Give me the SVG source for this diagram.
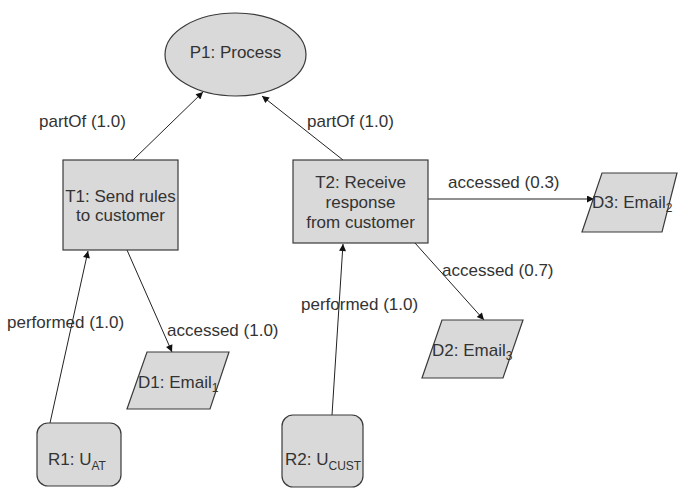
<svg xmlns="http://www.w3.org/2000/svg" width="678" height="488" viewBox="0 0 678 488">
<defs>
<style>
.shape{fill:#d9d9d9;stroke:#3a3a3a;stroke-width:1.2}
.lbl{font-family:"Liberation Sans",Arial,sans-serif;font-size:17px;fill:#333}
.sub{font-size:12px}
.conn{stroke:#222;stroke-width:1;fill:none;marker-end:url(#arr)}
</style>
<marker id="arr" viewBox="0 0 10 10" refX="10" refY="5" markerWidth="9" markerHeight="7" markerUnits="userSpaceOnUse" orient="auto">
<path d="M0,0 L10,5 L0,10 z" fill="#111"/>
</marker>
</defs>
<rect width="678" height="488" fill="#fff"/>
<g id="connectors">
<line class="conn" x1="133" y1="160" x2="203" y2="92"/>
<line class="conn" x1="343" y1="160" x2="262" y2="96"/>
<line class="conn" x1="50" y1="423" x2="88" y2="251"/>
<line class="conn" x1="127" y1="250" x2="172" y2="352"/>
<line class="conn" x1="332" y1="415" x2="343" y2="244"/>
<line class="conn" x1="415" y1="243" x2="484" y2="320"/>
<line class="conn" x1="428" y1="199" x2="594" y2="199"/>
<text class="lbl" x="39" y="127">partOf (1.0)</text>
<text class="lbl" x="307" y="127">partOf (1.0)</text>
<text class="lbl" x="448" y="188">accessed (0.3)</text>
<text class="lbl" x="442" y="276">accessed (0.7)</text>
<text class="lbl" x="301" y="310">performed (1.0)</text>
<text class="lbl" x="7" y="328">performed (1.0)</text>
<text class="lbl" x="167" y="336">accessed (1.0)</text>
</g>
<g id="P1">
<ellipse class="shape" cx="235.5" cy="54.5" rx="70.5" ry="41.5"/>
<text class="lbl" x="235.5" y="58" text-anchor="middle">P1: Process</text>
</g>
<g id="T1">
<rect class="shape" x="63" y="160" width="115" height="90"/>
<text class="lbl" x="120.5" y="202" text-anchor="middle">T1: Send rules</text>
<text class="lbl" x="120.5" y="221" text-anchor="middle">to customer</text>
</g>
<g id="T2">
<rect class="shape" x="293" y="160" width="135" height="83"/>
<text class="lbl" x="360.5" y="188" text-anchor="middle">T2: Receive</text>
<text class="lbl" x="360.5" y="208" text-anchor="middle">response</text>
<text class="lbl" x="360.5" y="228" text-anchor="middle">from customer</text>
</g>
<g id="D1">
<polygon class="shape" points="147,352 229,352 210,409 127,409"/>
<text class="lbl" x="138" y="388">D1: Email<tspan class="sub" dy="4">1</tspan></text>
</g>
<g id="D2">
<polygon class="shape" points="442,320 523,320 503,378 422,378"/>
<text class="lbl" x="432" y="356">D2: Email<tspan class="sub" dy="4">3</tspan></text>
</g>
<g id="D3">
<polygon class="shape" points="602,173 677,173 662,232 582,232"/>
<text class="lbl" x="592" y="208">D3: Email<tspan class="sub" dy="4">2</tspan></text>
</g>
<g id="R1">
<rect class="shape" x="37" y="423" width="84" height="63" rx="11" ry="11"/>
<text class="lbl" x="48" y="465">R1: U<tspan class="sub" dy="5">AT</tspan></text>
</g>
<g id="R2">
<rect class="shape" x="282" y="415" width="81" height="72" rx="11" ry="11"/>
<text class="lbl" x="285" y="465">R2: U<tspan class="sub" dy="5">CUST</tspan></text>
</g>
</svg>
